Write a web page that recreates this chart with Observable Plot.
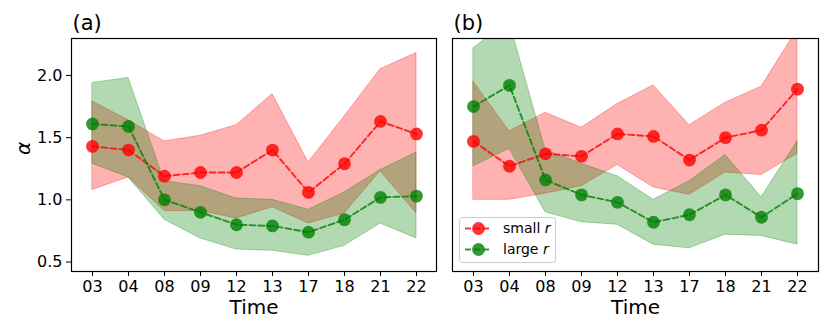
<!DOCTYPE html>
<html>
<head>
<meta charset="utf-8">
<script src="https://cdn.jsdelivr.net/npm/d3@7"></script>
<script src="https://cdn.jsdelivr.net/npm/@observablehq/plot@0.6"></script>
<style>
  html, body { margin: 0; padding: 0; background: #fff; }
  #wrap { position: relative; width: 830px; height: 332px; font-family: "DejaVu Sans", sans-serif; overflow: hidden; }
  .panel { position: absolute; top: 0; }
  .panel svg { font-family: "DejaVu Sans", sans-serif; background: transparent; }
  #legend { position: absolute; }
</style>
</head>
<body>
<div id="wrap">
  <div class="panel" id="pa" style="left:0px"></div>
  <div class="panel" id="pb" style="left:420px"></div>
  <div id="legend" style="left:459px; top:217px"></div>
</div>
<script>
const times = ["03","04","08","09","12","13","17","18","21","22"];

// Panel (a)
const aSmallMean = [1.43,1.40,1.19,1.22,1.22,1.40,1.06,1.29,1.63,1.53];
const aSmallLo   = [1.08,1.18,0.91,0.91,0.85,0.94,0.81,0.89,1.23,0.89];
const aSmallHi   = [1.79,1.64,1.47,1.515,1.60,1.85,1.30,1.67,2.05,2.18];
const aLargeMean = [1.61,1.59,1.00,0.90,0.80,0.79,0.74,0.84,1.02,1.03];
const aLargeLo   = [1.29,1.18,0.84,0.69,0.60,0.59,0.55,0.63,0.81,0.69];
const aLargeHi   = [1.94,1.98,1.15,1.11,1.01,1.00,0.92,1.06,1.24,1.38];

// Panel (b)
const bSmallMean = [1.47,1.27,1.37,1.35,1.53,1.51,1.32,1.50,1.56,1.89];
const bSmallLo   = [1.00,1.00,1.05,1.11,1.28,1.10,1.04,1.22,1.20,1.37];
const bSmallHi   = [1.95,1.55,1.70,1.58,1.77,1.92,1.60,1.78,1.91,2.37];
const bLargeMean = [1.75,1.92,1.16,1.04,0.98,0.82,0.88,1.04,0.86,1.05];
const bLargeLo   = [1.27,1.41,0.90,0.82,0.80,0.64,0.61,0.72,0.71,0.64];
const bLargeHi   = [2.22,2.43,1.40,1.29,1.19,1.00,1.15,1.36,1.02,1.47];

const yTicks = [0.5, 1.0, 1.5, 2.0];
const yDomain = [0.424, 2.297];
const seriesNames = ["small r", "large r"];
const colors = {"small r": "red", "large r": "green"};

function rows(mean, lo, hi) {
  return times.map((t, i) => ({t, mean: mean[i], lo: lo[i], hi: hi[i]}));
}

function panel(opts) {
  const {small, large, label, width, marginLeft, marginRight, showY} = opts;
  const marks = [];
  marks.push(Plot.areaY(small, {x: "t", y1: "lo", y2: "hi", fill: "red", fillOpacity: 0.3, stroke: "red", strokeOpacity: 0.3, strokeWidth: 1, clip: true}));
  marks.push(Plot.areaY(large, {x: "t", y1: "lo", y2: "hi", fill: "green", fillOpacity: 0.3, stroke: "green", strokeOpacity: 0.3, strokeWidth: 1, clip: true}));
  for (const [data, c] of [[small, "red"], [large, "green"]]) {
    marks.push(Plot.line(data, {x: "t", y: "mean", stroke: c, strokeOpacity: 0.8, strokeWidth: 1.9, strokeDasharray: "6,3", clip: true}));
    marks.push(Plot.dot(data, {x: "t", y: "mean", r: 6.4, fill: c, fillOpacity: 0.8, stroke: "none", clip: true}));
  }
  marks.push(Plot.frame({stroke: "black", strokeWidth: 1.2}));
  marks.push(Plot.axisX({tickSize: 5, tickPadding: 4, fontSize: 16, label: null, stroke: "black"}));
  if (showY) {
    marks.push(Plot.axisY({ticks: yTicks, tickFormat: d3.format(".1f"), tickSize: 5, tickPadding: 4, fontSize: 16, label: null}));
    marks.push(Plot.text(["α"], {frameAnchor: "left", lineAnchor: "middle", dx: -48, rotate: -90, fontSize: 20, fontStyle: "italic", fill: "black"}));
  }
  marks.push(Plot.text(["Time"], {frameAnchor: "bottom", lineAnchor: "middle", dy: 36, fontSize: 20, fill: "black"}));
  marks.push(Plot.text([label], {frameAnchor: "top-left", lineAnchor: "middle", textAnchor: "start", dx: 1, dy: -15, fontSize: 21, fill: "black"}));
  return Plot.plot({
    width, height: 332,
    marginLeft, marginRight, marginTop: 38, marginBottom: 61,
    style: {fontFamily: "DejaVu Sans, sans-serif", color: "black", background: "transparent", overflow: "visible"},
    x: {type: "point", domain: times, padding: 0.45, axis: null},
    y: {domain: yDomain, axis: null},
    marks
  });
}

document.getElementById("pa").append(panel({
  small: rows(aSmallMean, aSmallLo, aSmallHi),
  large: rows(aLargeMean, aLargeLo, aLargeHi),
  label: "(a)", width: 440, marginLeft: 71, marginRight: 4, showY: true
}));
document.getElementById("pb").append(panel({
  small: rows(bSmallMean, bSmallLo, bSmallHi),
  large: rows(bLargeMean, bLargeLo, bLargeHi),
  label: "(b)", width: 410, marginLeft: 32, marginRight: 12, showY: false
}));

// Legend
(function () {
  const w = 97, h = 46;
  const svg = d3.select("#legend").append("svg").attr("width", w).attr("height", h)
    .style("font-family", "DejaVu Sans, sans-serif").style("overflow", "visible");
  svg.append("rect").attr("x", 0.5).attr("y", 0.5).attr("width", w - 1).attr("height", h - 1)
    .attr("rx", 3).attr("fill", "white").attr("fill-opacity", 0.8).attr("stroke", "#cccccc");
  seriesNames.forEach((name, i) => {
    const cy = 11.5 + i * 21;
    const c = colors[name];
    const g = svg.append("g");
    g.append("line").attr("x1", 6).attr("x2", 33).attr("y1", cy).attr("y2", cy)
      .attr("stroke", c).attr("stroke-opacity", 0.8).attr("stroke-width", 1.9).attr("stroke-dasharray", "6,3");
    g.append("circle").attr("cx", 19.5).attr("cy", cy).attr("r", 6.4).attr("fill", c).attr("fill-opacity", 0.8);
    const parts = name.split(" ");
    const t = g.append("text").attr("x", 44).attr("y", cy).attr("dy", "0.35em").attr("font-size", 14).attr("fill", "black");
    t.append("tspan").text(parts[0] + " ");
    t.append("tspan").attr("font-style", "italic").text(parts[1]);
  });
})();
</script>
</body>
</html>
